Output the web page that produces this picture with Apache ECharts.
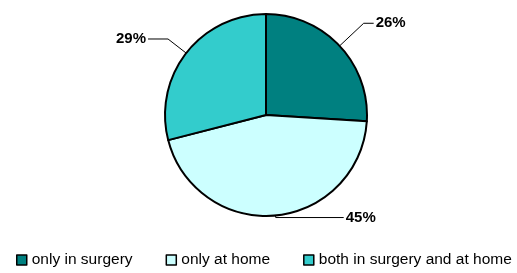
<!DOCTYPE html>
<html>
<head>
  <meta charset="utf-8" />
  <script src="https://cdn.jsdelivr.net/npm/echarts@6/dist/echarts.min.js"></script>
  <style>
    body, html { margin: 0; width: 100%; height: 100%; background: #fff; }
    #chart { width: 517px; height: 273px; }
  </style>
</head>
<body>
<div id="chart"></div>
<script>
  // data
  var categories = ['only in surgery', 'only at home', 'both in surgery and at home']
  var shares = [26, 45, 29]

  var colors = ['#008080', '#CCFFFF', '#33CCCC']
  // per-slice leader line sizes
  var lineLen = [[33, 10], [2, 68], [23, 20]]

  var chart = echarts.init(document.getElementById('chart'))

  var pieData = categories.map(function (name, i) {
    return {
      name: name,
      value: shares[i],
      itemStyle: { color: colors[i] },
      labelLine: { length: lineLen[i][0], length2: lineLen[i][1] }
    }
  })

  chart.setOption({
    animation: false,
    legend: {
      left: 16,
      top: 252,
      padding: 0,
      itemWidth: 10,
      itemHeight: 10,
      itemGap: 33,
      icon: 'rect',
      itemStyle: { borderColor: '#000', borderWidth: 1.5 },
      textStyle: { fontFamily: 'Liberation Sans, Arial', fontSize: 15.5, color: '#000' },
      data: categories
    },
    series: [{
      type: 'pie',
      center: [266, 115],
      radius: 101,
      startAngle: 90,
      clockwise: true,
      avoidLabelOverlap: false,
      itemStyle: { borderColor: '#000', borderWidth: 2 },
      label: {
        show: true,
        formatter: '{c}%',
        fontFamily: 'Liberation Sans, Arial',
        fontWeight: 'bold',
        fontSize: 15,
        color: '#000',
        distanceToLabelLine: 2
      },
      labelLine: { show: true, lineStyle: { color: '#000', width: 1 } },
      emphasis: { disabled: true },
      data: pieData
    }]
  })
</script>
</body>
</html>
